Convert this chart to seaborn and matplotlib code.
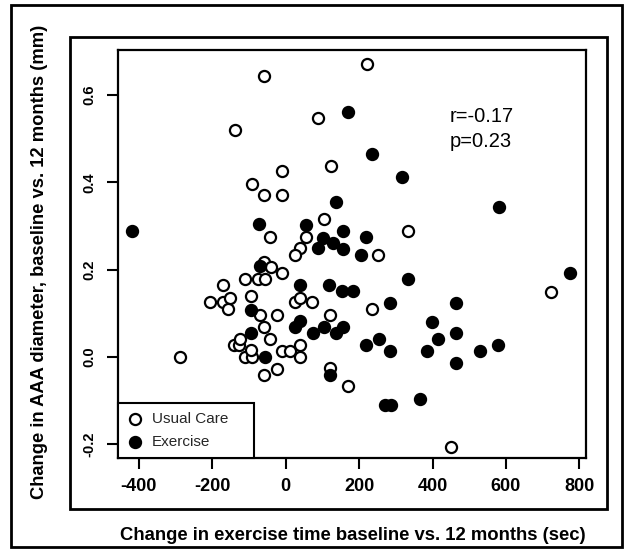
import matplotlib
matplotlib.use("Agg")
import matplotlib.pyplot as plt
import seaborn as sns
import pandas as pd
from matplotlib.patches import Rectangle

# ---- data ----
uc_x = [-59, 222, -139, 88, 122, -10, -91, -59, -10, 104, 334, -42, 55, 38, 25, 252,
        -60, -39, -9, -110, -76, -57, -171, -205, -171, -153, -157, -94, -71, -25,
        -59, -42, -142, -126, -124, -110, -91, -94, -25, -59, -9, 11, 40, 40, 25, 40,
        72, 120, 235, 120, 170, 449, 723, -287]
uc_y = [0.644, 0.671, 0.520, 0.547, 0.438, 0.425, 0.397, 0.371, 0.371, 0.316, 0.289,
        0.274, 0.275, 0.249, 0.234, 0.234, 0.217, 0.206, 0.192, 0.178, 0.178, 0.178,
        0.165, 0.125, 0.125, 0.136, 0.110, 0.139, 0.097, 0.097, 0.070, 0.041, 0.028,
        0.028, 0.041, 0.000, 0.000, 0.017, -0.027, -0.040, 0.014, 0.014, 0.027, 0.000,
        0.125, 0.136, 0.125, 0.097, 0.110, -0.025, -0.067, -0.205, 0.150, 0.000]
ex_x = [-418, -73, 56, 170, 235, 318, 138, 580, 102, 155, 88, 128, 156, 220, 204, -71,
        40, 118, 152, 184, 334, 774, -94, -94, -57, 25, 38, 73, 104, 138, 156, 285, 464,
        399, 464, 416, 220, 254, 285, 384, 529, 579, 464, 120, 270, 288, 365]
ex_y = [0.289, 0.304, 0.303, 0.562, 0.465, 0.412, 0.355, 0.343, 0.272, 0.289, 0.249,
        0.262, 0.247, 0.274, 0.234, 0.209, 0.165, 0.165, 0.152, 0.152, 0.178, 0.192,
        0.108, 0.055, 0.000, 0.070, 0.083, 0.055, 0.070, 0.055, 0.070, 0.124, 0.124,
        0.081, 0.055, 0.041, 0.027, 0.041, 0.014, 0.014, 0.014, 0.027, -0.014, -0.040,
        -0.109, -0.109, -0.095]
groups = ["Usual Care", "Exercise"]
x_ticks = [-400, -200, 0, 200, 400, 600, 800]
y_ticks = [-0.2, 0.0, 0.2, 0.4, 0.6]
stat_lines = ["r=-0.17", "p=0.23"]
x_label = "Change in exercise time baseline vs. 12 months (sec)"
y_label = "Change in AAA diameter, baseline vs. 12 months (mm)"

sns.set_theme(style="white")
plt.rcParams['font.family'] = ['Liberation Sans', 'DejaVu Sans']
plt.rcParams['axes.unicode_minus'] = False

df = pd.concat([
    pd.DataFrame({"x": uc_x, "y": uc_y, "group": groups[0]}),
    pd.DataFrame({"x": ex_x, "y": ex_y, "group": groups[1]}),
], ignore_index=True)

W, H = 626, 550
fig = plt.figure(figsize=(W / 100, H / 100), dpi=100)
ax = fig.add_axes([118 / W, 1 - 458 / H, (586 - 118) / W, (458 - 50) / H])

sns.scatterplot(data=df[df.group == groups[0]], x="x", y="y", ax=ax, s=64,
                color="white", edgecolor="black", linewidth=1.6, label=groups[0], zorder=3)
sns.scatterplot(data=df[df.group == groups[1]], x="x", y="y", ax=ax, s=64,
                color="black", edgecolor="black", linewidth=1.6, label=groups[1], zorder=4)

ax.set_xlim(-457, 818)
ax.set_ylim(-0.231, 0.703)

ax.set_xticks(x_ticks, labels=[str(v) for v in x_ticks], fontsize=13, fontweight="bold")
ax.set_yticks(y_ticks, labels=[f"{v:.1f}" for v in y_ticks], fontsize=10.5,
              fontweight="bold", rotation=90, va="center")
ax.tick_params(axis="both", direction="out", length=8, width=1.5, color="black",
               labelcolor="black", bottom=True, left=True)
ax.tick_params(axis="x", pad=6.5)
ax.tick_params(axis="y", pad=7.5)

for sp in ax.spines.values():
    sp.set_color("black")
    sp.set_linewidth(1.6)

ax.set_xlabel(x_label, fontsize=13.3, fontweight="bold", color="black")
ax.set_ylabel(y_label, fontsize=13.2, fontweight="bold", color="black")
ax.xaxis.label.set_va("center")
ax.yaxis.label.set_va("center")
ax.xaxis.set_label_coords((353 - 118) / 468, (458 - 535) / 408)
ax.yaxis.set_label_coords((40 - 118) / 468, (458 - 262) / 408)

ax.text(447, 0.55, stat_lines[0], fontsize=14.5, va="center", ha="left", color="black")
ax.text(447, 0.493, stat_lines[1], fontsize=14.5, va="center", ha="left", color="black")

leg = ax.legend(loc="lower left", bbox_to_anchor=(0, 0, 136 / 468, 58 / 408),
                mode="expand", borderaxespad=0, frameon=True, fancybox=False,
                framealpha=1, edgecolor="black", fontsize=11, handlelength=1.0,
                handletextpad=0.6, borderpad=0.6, labelspacing=0.6, scatterpoints=1)
leg.get_frame().set_linewidth(1.5)
leg.set_zorder(10)

fig.patches.append(Rectangle((70 / W, 1 - 509 / H), (607 - 70) / W, (509 - 37) / H,
                             transform=fig.transFigure, fill=False, lw=2, ec="black"))
fig.patches.append(Rectangle((11 / W, 1 - 547 / H), (622 - 11) / W, (547 - 5) / H,
                             transform=fig.transFigure, fill=False, lw=2, ec="black"))

fig.savefig("out.png", dpi=100)
